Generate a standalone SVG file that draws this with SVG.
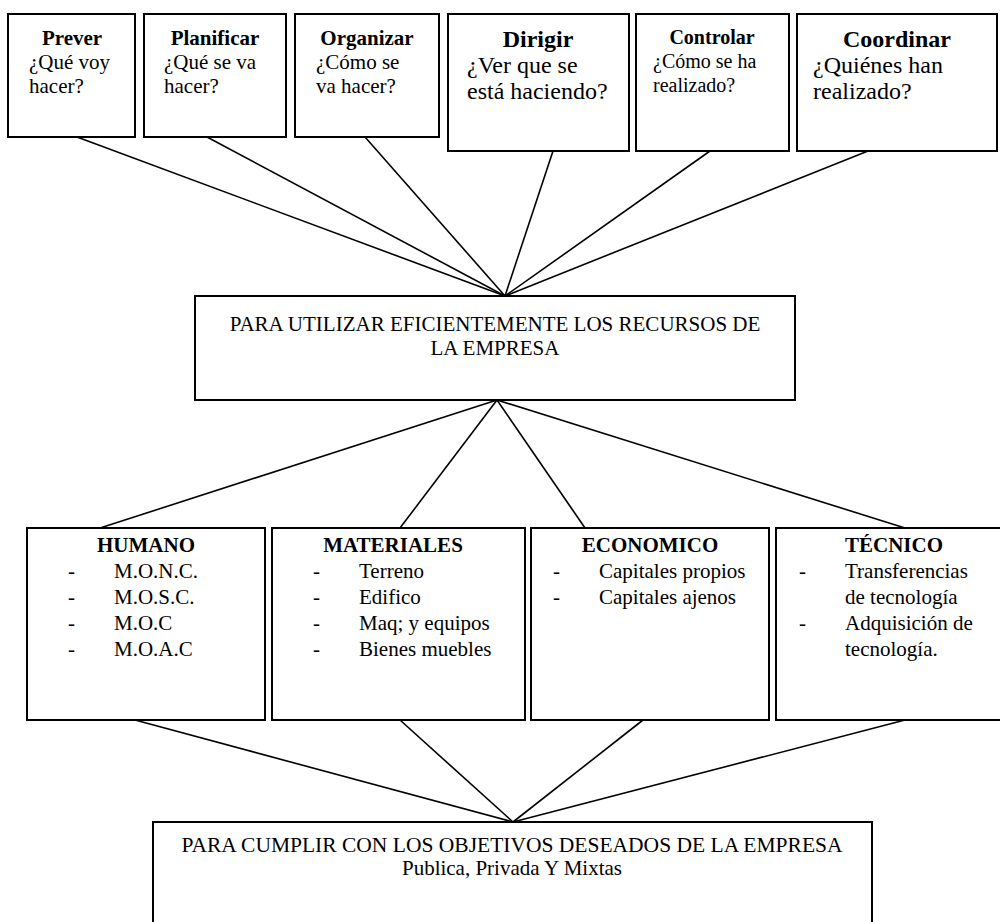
<svg xmlns="http://www.w3.org/2000/svg" width="1000" height="922" viewBox="0 0 1000 922">
<style>
.box{fill:#fff;stroke:#000;stroke-width:2}
.t{font-family:"Liberation Serif","Times New Roman",serif;font-size:21px;fill:#000}
.b{font-weight:bold}
.c{text-anchor:middle}
.lg{font-size:24px}
.sm{font-size:20px}
.ln{stroke:#000;stroke-width:1.6;fill:none}
</style>
<rect width="1000" height="922" fill="#fff"/>
<g id="connectors">
<line class="ln" x1="77" y1="137" x2="505" y2="296"/>
<line class="ln" x1="207" y1="137" x2="505" y2="296"/>
<line class="ln" x1="365" y1="137" x2="505" y2="296"/>
<line class="ln" x1="553" y1="151" x2="505" y2="296"/>
<line class="ln" x1="710" y1="151" x2="505" y2="296"/>
<line class="ln" x1="868" y1="151" x2="505" y2="296"/>
<line class="ln" x1="497" y1="400" x2="100" y2="528"/>
<line class="ln" x1="497" y1="400" x2="400" y2="528"/>
<line class="ln" x1="497" y1="400" x2="585" y2="528"/>
<line class="ln" x1="497" y1="400" x2="905" y2="528"/>
<line class="ln" x1="135" y1="720" x2="513" y2="822"/>
<line class="ln" x1="400" y1="720" x2="513" y2="822"/>
<line class="ln" x1="643" y1="720" x2="513" y2="822"/>
<line class="ln" x1="905" y1="720" x2="513" y2="822"/>
</g>
<g id="prever">
<rect class="box" x="8" y="14" width="127" height="123"/>
<text class="t b c" x="72" y="45">Prever</text>
<text class="t" x="29" y="69">¿Qué voy</text>
<text class="t" x="29" y="93">hacer?</text>
</g>
<g id="planificar">
<rect class="box" x="144" y="14" width="142" height="123"/>
<text class="t b c" x="215" y="45">Planificar</text>
<text class="t" x="164" y="69">¿Qué se va</text>
<text class="t" x="164" y="93">hacer?</text>
</g>
<g id="organizar">
<rect class="box" x="295" y="14" width="144" height="123"/>
<text class="t b c" x="367" y="45">Organizar</text>
<text class="t" x="316" y="69">¿Cómo se</text>
<text class="t" x="316" y="93">va hacer?</text>
</g>
<g id="dirigir">
<rect class="box" x="448" y="14" width="181" height="137"/>
<text class="t lg b c" x="538" y="47">Dirigir</text>
<text class="t lg" x="467" y="73">¿Ver que se</text>
<text class="t lg" x="467" y="99">está haciendo?</text>
</g>
<g id="controlar">
<rect class="box" x="636" y="14" width="153" height="137"/>
<text class="t sm b c" x="712" y="44">Controlar</text>
<text class="t sm" x="653" y="68">¿Cómo se ha</text>
<text class="t sm" x="653" y="92">realizado?</text>
</g>
<g id="coordinar">
<rect class="box" x="797" y="14" width="200" height="137"/>
<text class="t lg b c" x="897" y="47">Coordinar</text>
<text class="t lg" x="813" y="73">¿Quiénes han</text>
<text class="t lg" x="813" y="99">realizado?</text>
</g>
<g id="recursos">
<rect class="box" x="195" y="296" width="600" height="104"/>
<text class="t c" x="495" y="331">PARA UTILIZAR EFICIENTEMENTE LOS RECURSOS DE</text>
<text class="t c" x="495" y="355">LA EMPRESA</text>
</g>
<g id="humano">
<rect class="box" x="27" y="528" width="238" height="192"/>
<text class="t b c" x="146" y="552">HUMANO</text>
<text class="t" x="68" y="578">-</text><text class="t" x="114" y="578">M.O.N.C.</text>
<text class="t" x="68" y="604">-</text><text class="t" x="114" y="604">M.O.S.C.</text>
<text class="t" x="68" y="630">-</text><text class="t" x="114" y="630">M.O.C</text>
<text class="t" x="68" y="656">-</text><text class="t" x="114" y="656">M.O.A.C</text>
</g>
<g id="materiales">
<rect class="box" x="272" y="528" width="253" height="192"/>
<text class="t b c" x="393" y="552">MATERIALES</text>
<text class="t" x="313" y="578">-</text><text class="t" x="359" y="578">Terreno</text>
<text class="t" x="313" y="604">-</text><text class="t" x="359" y="604">Edifico</text>
<text class="t" x="313" y="630">-</text><text class="t" x="359" y="630">Maq; y equipos</text>
<text class="t" x="313" y="656">-</text><text class="t" x="359" y="656">Bienes muebles</text>
</g>
<g id="economico">
<rect class="box" x="531" y="528" width="238" height="192"/>
<text class="t b c" x="650" y="552">ECONOMICO</text>
<text class="t" x="553" y="578">-</text><text class="t" x="599" y="578">Capitales propios</text>
<text class="t" x="553" y="604">-</text><text class="t" x="599" y="604">Capitales ajenos</text>
</g>
<g id="tecnico">
<rect class="box" x="776" y="528" width="234" height="192"/>
<text class="t b c" x="894" y="552">TÉCNICO</text>
<text class="t" x="799" y="578">-</text><text class="t" x="845" y="578">Transferencias</text>
<text class="t" x="845" y="604">de tecnología</text>
<text class="t" x="799" y="630">-</text><text class="t" x="845" y="630">Adquisición de</text>
<text class="t" x="845" y="656">tecnología.</text>
</g>
<g id="objetivos">
<rect class="box" x="153" y="822" width="719" height="110"/>
<text class="t c" x="512" y="852" style="font-size:21.5px">PARA CUMPLIR CON LOS OBJETIVOS DESEADOS DE LA EMPRESA</text>
<text class="t c" x="512" y="875">Publica, Privada Y Mixtas</text>
</g>
</svg>
